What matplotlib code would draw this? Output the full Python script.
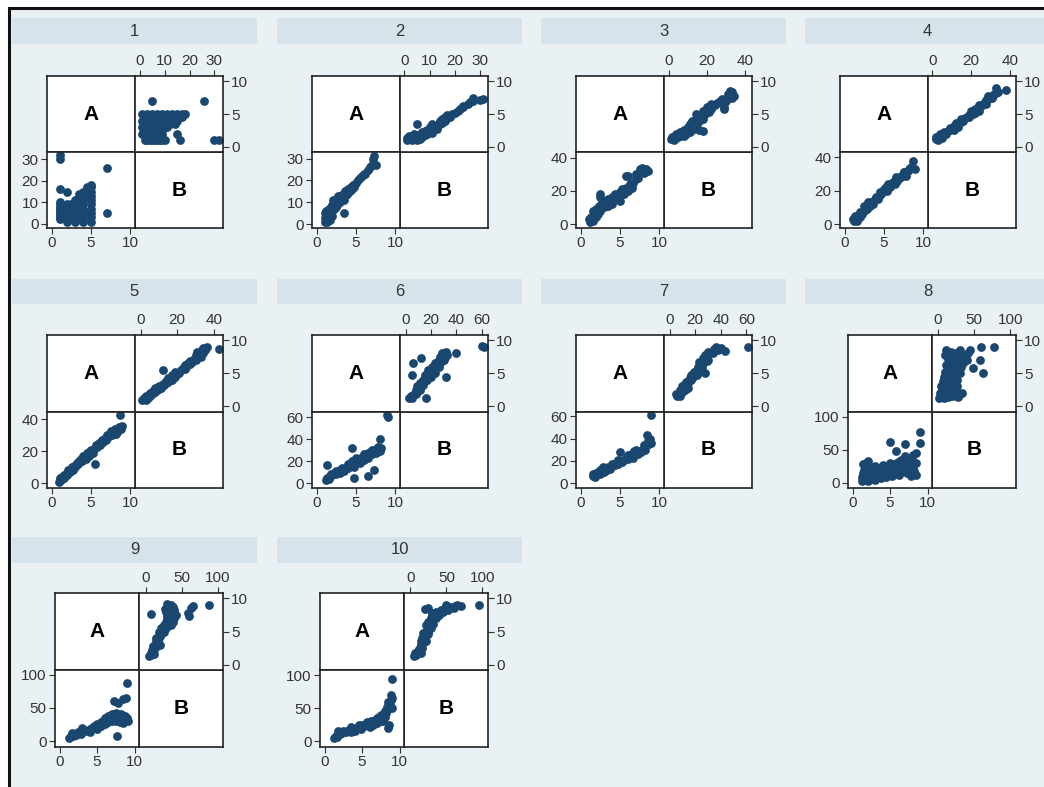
"""Graph-matrix grid (A vs B) for ten groups, Stata s2color look. -> out.png"""
import matplotlib

matplotlib.use("Agg")
import matplotlib.pyplot as plt
from matplotlib.patches import Rectangle

plt.rcParams["font.family"] = ["Liberation Sans", "DejaVu Sans"]

W, H = 1044, 787
BG = "#e9f1f4"
STRIP = "#d6e3ea"
NAVY = "#1a476f"
INK = "#333333"

# ---- data: (A, B) pairs per group ----
A1 = [1, 1, 1, 1, 1, 1, 1, 1, 1, 1, 1, 1, 1.5, 1.5, 1.5, 2, 2, 2, 2, 2, 2, 2, 2, 2, 2,
      2.5, 2.5, 2.5, 3, 3, 3, 3, 3, 3, 3, 3, 3, 3, 3, 3.5, 3.5, 3.5, 3.5,
      4, 4, 4, 4, 4, 4, 4, 4, 4, 4.5, 4.5, 4.5, 5, 5, 5, 5, 5, 5, 5, 5, 5, 5, 7, 7]
B1 = [2, 3, 4, 5, 6, 7, 8, 9, 10, 16, 30, 32, 3, 5, 8, 1, 2, 3, 4, 5, 6, 7, 8, 9, 15,
      3, 6, 9, 1, 2, 3, 4, 5, 6, 7, 8, 9, 10, 11, 4, 8, 12, 14,
      1, 2, 3, 5, 7, 9, 11, 13, 15, 5, 14, 17, 1, 3, 5, 7, 9, 11, 13, 15, 17, 18, 5, 26]

A2 = [1.0, 1.0, 1.1, 1.2, 1.2, 1.3, 1.4, 1.5, 1.5, 1.6, 1.7, 1.8, 1.9, 2.0, 2.0, 2.2, 2.3,
      2.4, 2.5, 2.6, 2.8, 3.0, 3.0, 3.2, 3.4, 3.5, 3.6, 3.8, 4.0, 4.2, 4.4, 4.6, 4.8, 5.0,
      5.2, 5.5, 5.8, 6.0, 6.2, 6.5, 6.8, 7.0, 7.2, 7.3, 3.5, 7.5, 1.3, 2.1, 2.7, 3.9, 4.5]
B2 = [1, 3, 5, 2, 6, 1, 4, 3, 7, 5, 2, 8, 6, 4, 9, 7, 10, 8, 11, 9, 12, 10, 13, 12, 14, 11,
      15, 14, 16, 15, 17, 18, 17, 19, 20, 21, 22, 23, 23, 25, 26, 27, 30, 31, 5, 27, 6, 11,
      13, 14, 16]

A3 = [1.0, 1.2, 1.3, 1.5, 1.5, 1.7, 1.8, 2.0, 2.0, 2.2, 2.3, 2.5, 2.5, 2.7, 3.0, 3.0, 3.2,
      3.5, 3.5, 3.8, 4.0, 4.0, 4.3, 4.5, 4.8, 5.0, 5.0, 5.3, 5.5, 5.7, 5.8, 6.0, 6.0, 6.3,
      6.5, 6.7, 7.0, 7.0, 7.3, 7.5, 7.8, 8.0, 8.3, 8.5, 2.4, 1.6]
B3 = [3, 1, 4, 5, 2, 6, 7, 4, 9, 6, 11, 8, 16, 13, 10, 14, 12, 15, 11, 13, 16, 12, 18, 15,
      17, 19, 14, 21, 18, 29, 22, 29, 20, 24, 22, 25, 27, 30, 28, 33, 34, 31, 33, 32, 18, 8]

A4 = [1.0, 1.2, 1.4, 1.5, 1.7, 1.9, 2.0, 2.2, 2.4, 2.6, 2.8, 3.0, 3.2, 3.4, 3.6, 3.8, 4.0,
      4.2, 4.4, 4.6, 4.8, 5.0, 5.2, 5.4, 5.6, 5.8, 6.0, 6.2, 6.4, 6.6, 6.8, 7.0, 7.2, 7.4,
      7.6, 7.8, 8.0, 8.2, 8.4, 8.7, 8.9, 1.3, 2.5, 4.5, 6.5, 3.0, 5.5, 7.5]
B4 = [3, 2, 4, 2, 5, 4, 7, 6, 8, 9, 9, 12, 11, 13, 12, 15, 16, 15, 17, 18, 19, 21, 22, 20,
      23, 22, 24, 25, 24, 26, 27, 28, 28, 30, 31, 29, 32, 33, 34, 38, 33, 5, 11, 19, 28,
      13, 24, 31]

A5 = [0.9, 1.0, 1.2, 1.3, 1.5, 1.6, 1.8, 2.0, 2.1, 2.3, 2.5, 2.6, 2.8, 3.0, 3.2, 3.3, 3.5,
      3.7, 3.9, 4.0, 4.2, 4.4, 4.5, 4.7, 4.9, 5.0, 5.2, 5.5, 5.6, 5.8, 6.0, 6.2, 6.4, 6.5,
      6.7, 6.9, 7.0, 7.2, 7.4, 7.5, 7.7, 7.9, 8.0, 8.2, 8.4, 8.6, 8.8, 9.0, 8.7, 5.5, 1.1,
      2.7, 4.3, 6.3]
B5 = [1, 3, 2, 4, 3, 5, 6, 5, 8, 7, 9, 10, 11, 10, 13, 12, 14, 15, 14, 17, 16, 18, 19, 17,
      20, 21, 19, 22, 24, 23, 25, 24, 27, 26, 28, 27, 30, 29, 31, 33, 30, 32, 34, 31, 33,
      35, 34, 36, 43, 12, 2, 8, 15, 25]

A6 = [1.2, 1.3, 1.5, 1.7, 1.8, 2.0, 2.2, 2.4, 2.5, 2.7, 3.0, 3.0, 3.2, 3.5, 3.5, 3.8, 4.0,
      4.0, 4.2, 4.5, 4.5, 4.8, 5.0, 5.0, 5.3, 5.5, 5.5, 5.8, 6.0, 6.0, 6.3, 6.5, 6.5, 6.8,
      7.0, 7.0, 7.3, 7.5, 7.5, 7.8, 8.0, 8.0, 8.2, 1.3, 4.8, 6.5, 7.3, 9.0, 9.1, 4.5]
B6 = [3, 5, 4, 6, 8, 7, 9, 8, 11, 10, 12, 9, 14, 13, 11, 15, 17, 14, 16, 18, 20, 15, 19,
      23, 21, 22, 18, 24, 26, 21, 25, 27, 23, 28, 26, 30, 28, 31, 27, 33, 29, 40, 32, 16,
      5, 6, 12, 62, 60, 32]

A7 = [1.5, 1.6, 1.8, 2.0, 2.0, 2.2, 2.4, 2.5, 2.7, 3.0, 3.0, 3.3, 3.5, 3.7, 4.0, 4.0, 4.3,
      4.5, 4.7, 5.0, 5.0, 5.2, 5.5, 5.7, 6.0, 6.0, 6.3, 6.5, 6.7, 7.0, 7.0, 7.3, 7.5, 7.7,
      8.0, 8.0, 8.2, 8.4, 8.5, 8.7, 8.8, 9.0, 9.0, 1.7, 2.8, 4.8, 6.8]
B7 = [6, 8, 5, 7, 9, 10, 8, 12, 11, 13, 10, 12, 14, 13, 15, 17, 16, 18, 17, 20, 28, 19, 21,
      23, 22, 25, 24, 26, 23, 27, 30, 26, 29, 28, 31, 34, 30, 43, 38, 35, 40, 36, 61, 7,
      14, 21, 29]

A8 = [1.3, 1.3, 1.4, 1.5, 1.5, 1.6, 1.8, 2.0, 2.0, 2.0, 2.2, 2.5, 2.5, 2.8, 3.0, 3.0, 3.0,
      3.3, 3.5, 3.5, 3.8, 4.0, 4.0, 4.0, 4.3, 4.5, 4.5, 4.8, 5.0, 5.0, 5.0, 5.2, 5.5, 5.5,
      5.8, 6.0, 6.0, 6.2, 6.5, 6.5, 6.8, 7.0, 7.0, 7.0, 7.2, 7.5, 7.5, 7.8, 7.8, 8.0, 8.0,
      8.2, 8.5, 8.5, 8.5, 9.0, 9.0, 5.8, 1.5, 1.8, 2.3, 2.7, 3.2, 3.7, 4.2, 4.7, 5.3, 6.3,
      6.7, 7.3, 1.4, 2.2]
B8 = [2, 8, 14, 5, 20, 25, 30, 33, 10, 3, 16, 6, 22, 12, 4, 18, 26, 9, 15, 22, 7, 12, 20,
      27, 16, 8, 24, 14, 18, 30, 62, 10, 22, 28, 15, 20, 32, 12, 25, 35, 18, 28, 58, 40, 14,
      22, 33, 10, 38, 25, 42, 18, 45, 12, 30, 60, 77, 48, 11, 18, 9, 17, 13, 19, 24, 18, 15,
      17, 29, 35, 28, 26]

A9 = [1.3, 1.5, 1.6, 1.8, 2.0, 2.2, 2.5, 2.8, 3.0, 3.0, 3.3, 3.6, 4.0, 4.0, 4.3, 4.6, 5.0,
      5.0, 5.2, 5.5, 5.5, 5.8, 6.0, 6.0, 6.2, 6.5, 6.5, 6.7, 7.0, 7.0, 7.3, 7.2, 7.5, 7.5,
      7.8, 7.7, 8.0, 8.0, 8.0, 8.2, 8.5, 8.5, 8.7, 9.0, 9.0, 9.1, 7.6, 8.8, 6.8, 7.9, 8.4]
B9 = [5, 8, 12, 7, 10, 9, 13, 11, 20, 14, 16, 15, 18, 14, 20, 22, 26, 18, 24, 28, 22, 30,
      35, 25, 32, 38, 28, 33, 40, 30, 60, 35, 42, 30, 58, 38, 36, 28, 33, 40, 63, 33, 38,
      87, 35, 30, 8, 65, 36, 31, 27]

A10 = [1.3, 1.5, 1.7, 1.8, 2.0, 2.0, 2.3, 2.5, 2.8, 3.0, 3.2, 3.5, 3.5, 3.8, 4.0, 4.3, 4.5,
       4.8, 5.0, 5.0, 5.3, 5.5, 5.8, 6.0, 6.0, 6.3, 6.5, 6.5, 6.8, 7.0, 7.0, 7.2, 7.5, 7.5,
       7.7, 8.0, 8.0, 8.2, 8.3, 8.5, 8.5, 8.7, 8.8, 8.9, 9.0, 9.0, 9.0, 8.6, 8.4, 7.8, 7.3,
       6.2, 5.6, 4.6]
B10 = [5, 8, 6, 15, 10, 13, 12, 16, 14, 15, 17, 14, 22, 18, 16, 20, 22, 18, 21, 25, 23, 26,
       24, 28, 22, 27, 30, 25, 32, 28, 35, 33, 30, 40, 38, 36, 45, 42, 52, 48, 60, 55, 62,
       70, 95, 65, 50, 25, 20, 30, 36, 31, 29, 24]

GROUPS = ["1", "2", "3", "4", "5", "6", "7", "8", "9", "10"]
A_DATA = [A1, A2, A3, A4, A5, A6, A7, A8, A9, A10]
B_DATA = [B1, B2, B3, B4, B5, B6, B7, B8, B9, B10]
B_TICKS = [[0, 10, 20, 30], [0, 10, 20, 30], [0, 20, 40], [0, 20, 40], [0, 20, 40],
           [0, 20, 40, 60], [0, 20, 40, 60], [0, 50, 100], [0, 50, 100], [0, 50, 100]]
B_LIM = [(-2, 33.5), (-1.7, 33), (-2.4, 43.4), (-2.3, 43.3), (-3, 45),
         (-4.5, 65), (-4.5, 64.5), (-8, 108), (-9, 107), (-9, 108)]
A_TICKS = [0, 5, 10]

# ---- layout in pixels ----
COL_X = [12, 277, 541, 805]
ROWS = [(18, 44, 76, 228), (279, 304, 335, 488), (537, 563, 593, 747)]  # strip top/bot, box top/bot

fig = plt.figure(figsize=(W / 100, H / 100), dpi=100, facecolor="white")
fig.add_artist(Rectangle((8.5 / W, -0.05), 1.2, 1.05 - 7.5 / H, transform=fig.transFigure,
                         fc=BG, ec="#111111", lw=2.2, zorder=0))


def px_axes(l, t, w, h):
    return fig.add_axes([l / W, 1 - (t + h) / H, w / W, h / H])


def style(ax):
    ax.set_facecolor("white")
    for s in ax.spines.values():
        s.set_color("#222222")
        s.set_linewidth(1.2)
    ax.tick_params(length=4.5, width=0.8, color=INK, labelcolor=INK, labelsize=11, pad=1.5)


for i, name in enumerate(GROUPS):
    x0 = COL_X[i % 4]
    st, sb, bt, bb = ROWS[i // 4]
    fig.add_artist(Rectangle((x0 / W, 1 - sb / H), 245 / W, (sb - st) / H,
                             transform=fig.transFigure, fc=STRIP, ec="none", zorder=1))
    fig.text((x0 + 122.5) / W, 1 - (st + sb) / 2 / H, name, ha="center", va="center",
             fontsize=12, color=INK)

    left = x0 + (43 if max(B_TICKS[i]) >= 100 else 35)
    right = x0 + 211
    cw, ch = (right - left) / 2, (bb - bt) / 2
    A, B = A_DATA[i], B_DATA[i]

    for lbl, (cx, cy) in (("A", (left, bt)), ("B", (left + cw, bt + ch))):
        ax = px_axes(cx, cy, cw, ch)
        style(ax)
        ax.set_xticks([])
        ax.set_yticks([])
        ax.text(0.5, 0.5, lbl, transform=ax.transAxes, ha="center", va="center",
                fontsize=15, fontweight="bold", color="black")

    ur = px_axes(left + cw, bt, cw, ch)
    style(ur)
    ur.scatter(B, A, s=40, color=NAVY, lw=0)
    ur.set_xlim(*B_LIM[i])
    ur.set_ylim(-0.8, 10.8)
    ur.set_xticks(B_TICKS[i])
    ur.set_yticks(A_TICKS)
    ur.xaxis.tick_top()
    ur.yaxis.tick_right()

    ll = px_axes(left, bt + ch, cw, ch)
    style(ll)
    ll.scatter(A, B, s=40, color=NAVY, lw=0)
    ll.set_xlim(-0.6, 10.6)
    ll.set_ylim(*B_LIM[i])
    ll.set_xticks(A_TICKS)
    ll.set_yticks(B_TICKS[i])

fig.savefig("out.png", dpi=100, facecolor="white")
